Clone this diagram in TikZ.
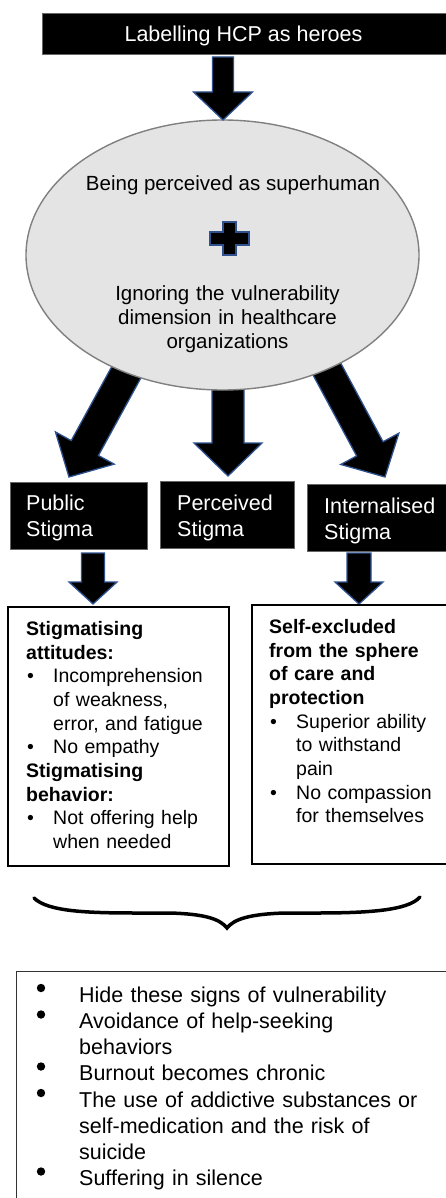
\documentclass[tikz,border=0pt]{standalone}
\usepackage{fontspec}
\setmainfont{Liberation Sans}
\usetikzlibrary{shapes.geometric}
\definecolor{arrowblue}{HTML}{2F528F}
\definecolor{ellfill}{HTML}{E4E4E4}
\definecolor{ellline}{HTML}{808080}
% tip x, tip y, angle, total length, shaft width, head width, head length
\newcommand\blockarrow[7]{%
  \begin{scope}[shift={(#1,#2)},rotate=#3]
    \filldraw[blockarrowstyle] (0,0) -- (-#7,#6/2) -- (-#7,#5/2) -- (-#4,#5/2)
      -- (-#4,-#5/2) -- (-#7,-#5/2) -- (-#7,-#6/2) -- cycle;
  \end{scope}}
\newcommand\lbul{\makebox[27pt][l]{\hspace{1pt}•}}
\newcommand\lind{\hspace*{27pt}}
\newcommand\bigind{\hspace*{46pt}}
\begin{document}
\begin{tikzpicture}[x=1pt,y=-1pt,
  blockarrowstyle/.style={fill=black, draw=arrowblue, line width=1.3pt, line join=miter},
  blackbox/.style={fill=black, draw=black!60, line width=0.6pt, inner sep=0pt},
  whitetext/.style={text=white, font=\fontsize{21.5}{26}\selectfont, align=left, inner sep=0pt},
  elltext/.style={font=\fontsize{20.5}{24}\selectfont, inner sep=0pt},
  contentbox/.style={draw=black, line width=1.6pt, inner sep=0pt, fill=white, anchor=north west},
  boxtext/.style={font=\fontsize{19.5}{23.7}\selectfont, inner sep=0pt, anchor=north west, align=left},
  listtext/.style={font=\fontsize{21.5}{26.2}\selectfont, inner sep=0pt, anchor=north west, align=left},
  bigdot/.style={fill=black}]
\fill[white] (0,0) rectangle (446,1198);
\useasboundingbox (0,0) rectangle (446,1198);

% arrows leaving the ellipse (drawn under it)
\blockarrow{69}{477}{-118.7}{125}{31}{67}{33}
\blockarrow{228}{476}{-90}{120}{32}{68}{33}
\blockarrow{385}{477}{-61.7}{125}{30}{66}{32}

% ellipse
\node[ellipse, draw=ellline, fill=ellfill, line width=1.4pt, minimum width=393pt,
      minimum height=270pt, inner sep=0pt] (ell) at (222.5,255) {};
\node[elltext, anchor=base] (superhuman) at (233,190.5) {Being perceived as superhuman};
\filldraw[blockarrowstyle] (223,222) -- (236,222) -- (236,232) -- (249,232) -- (249,245)
  -- (236,245) -- (236,255) -- (223,255) -- (223,245) -- (210,245) -- (210,232)
  -- (223,232) -- cycle;
\node[elltext, anchor=north, text width=300pt, align=center] (ignoring) at (227.5,285.3)
  {Ignoring the vulnerability\\dimension in healthcare\\organizations};

% top box and arrow
\node[blackbox, minimum width=404pt, minimum height=41pt] (top) at (244,33.5) {};
\node[whitetext, anchor=base] (toptext) at (243.5,41.7) {Labelling HCP as heroes};
\blockarrow{223}{120}{-90}{63}{21}{59}{28}

% stigma boxes
\node[blackbox, minimum width=137pt, minimum height=67pt, anchor=north west] (public) at (10,482) {};
\node[whitetext, anchor=north west] (publictext) at (26,494.6) {Public\\Stigma};
\node[blackbox, minimum width=134pt, minimum height=67pt, anchor=north west] (perceived) at (160,481) {};
\node[whitetext, anchor=north west] (perceivedtext) at (177,494.6) {Perceived\\Stigma};
\node[blackbox, minimum width=145pt, minimum height=67pt, anchor=north west] (internal) at (307,484) {};
\node[whitetext, anchor=north west] (internaltext) at (324,497.3) {Internalised\\Stigma};

% small arrows
\blockarrow{93}{604}{-90}{51}{23}{48}{22}
\blockarrow{359}{604}{-90}{51}{24}{48}{22}

% content boxes
\node[contentbox, minimum width=221pt, minimum height=259pt] (leftbox) at (7,606) {};
\node[boxtext, text width=200pt] (lefttext) at (26,621)
  {\textbf{Stigmatising}\\
   \textbf{attitudes:}\\
   \lbul Incomprehension\\
   \lind of weakness,\\
   \lind error, and fatigue\\
   \lbul No empathy\\
   \textbf{Stigmatising}\\
   \textbf{behavior:}\\
   \lbul Not offering help\\
   \lind when needed};
\node[contentbox, minimum width=205pt, minimum height=259pt] (rightbox) at (251,604) {};
\node[boxtext, text width=180pt] (righttext) at (269,619)
  {\textbf{Self-excluded}\\
   \textbf{from the sphere}\\
   \textbf{of care and}\\
   \textbf{protection}\\
   \lbul Superior ability\\
   \lind to withstand\\
   \lind pain\\
   \lbul No compassion\\
   \lind for themselves};

% brace
\draw[line width=3.5pt, line cap=round] (34,898) .. controls (48,912) and (90,913) .. (140,913)
  -- (170,913) .. controls (205,914) and (220,919) .. (227,928)
  .. controls (234,919) and (250,914) .. (285,913) -- (315,913)
  .. controls (365,913) and (408,911) .. (420,897);

% bottom box
\node[contentbox, draw=black!80, line width=1pt, minimum width=440pt, minimum height=250pt] (outcomes) at (16,971) {};
\node[listtext, text width=410pt] (outtext) at (33,986.6)
  {\bigind Hide these signs of vulnerability\\
   \bigind Avoidance of help-seeking\\
   \bigind behaviors\\
   \bigind Burnout becomes chronic\\
   \bigind The use of addictive substances or\\
   \bigind self-medication and the risk of\\
   \bigind suicide\\
   \bigind Suffering in silence};
\foreach \by in {988,1014.5,1066.5,1093,1171.5}
  \fill[bigdot] (41,\by) circle[radius=4.2pt];
\end{tikzpicture}
\end{document}
